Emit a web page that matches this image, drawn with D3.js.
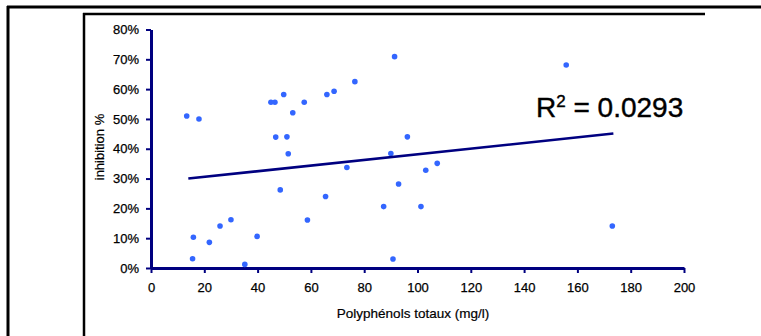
<!DOCTYPE html>
<html>
<head>
<meta charset="utf-8">
<script src="https://cdn.jsdelivr.net/npm/d3@7"></script>
<style>
html,body{margin:0;padding:0;background:#fff;}
svg{display:block;}
text{font-family:"Liberation Sans",Arial,sans-serif;}
</style>
</head>
<body>
<script>
// Data
const polyphenols = [13.4, 18, 45, 46.5, 46.8, 51, 48.5, 15.9, 15.6, 21.9, 25.9, 30, 35.2, 39.8,
  91.4, 76.5, 68.7, 66, 57.5, 49.8, 53.2, 96.2, 51.5, 65.5, 58.7, 73.5, 90, 92.9, 87.3, 101.3,
  103.1, 107.4, 90.8, 155.8, 173.1];
const inhibition = [51, 50, 55.6, 55.6, 43.9, 44, 26.2, 10.3, 3.1, 8.6, 14.1, 16.2, 1.2, 10.6,
  70.9, 62.5, 59.3, 58.2, 55.6, 58.2, 52.1, 44, 38.3, 24, 16.1, 33.7, 38.4, 28.2, 20.6, 20.6,
  32.8, 35.1, 3, 68.1, 14.1];
const trendX = [14, 173.5];
const trendY = [30, 45.1];
const xTicks = [0, 20, 40, 60, 80, 100, 120, 140, 160, 180, 200];
const yTicks = [0, 10, 20, 30, 40, 50, 60, 70, 80];
const xTitle = "Polyphénols totaux (mg/l)";
const yTitle = "inhibition %";
const r2Label = "0.0293";

const W = 761, H = 336;
const svg = d3.select("body").append("svg").attr("width", W).attr("height", H);
svg.append("rect").attr("width", W).attr("height", H).attr("fill", "#fff");

// frames
const frame = svg.append("g").attr("stroke", "#000").attr("fill", "none");
frame.append("line").attr("x1", 7).attr("x2", W).attr("y1", 7).attr("y2", 7).attr("stroke-width", 3);
frame.append("line").attr("x1", 8).attr("x2", 8).attr("y1", 6).attr("y2", H).attr("stroke-width", 3);
frame.append("line").attr("x1", 83).attr("x2", 705).attr("y1", 14).attr("y2", 14).attr("stroke-width", 2.5);
frame.append("line").attr("x1", 84).attr("x2", 84).attr("y1", 13).attr("y2", H).attr("stroke-width", 2.5);

const x = d3.scaleLinear().domain([0, 200]).range([151, 684]);
const y = d3.scaleLinear().domain([0, 80]).range([268, 29.5]);
const navy = "#000080";

// axes
const xAxis = svg.append("g").attr("transform", "translate(0,268)")
  .call(d3.axisBottom(x).tickValues(xTicks).tickSize(5).tickSizeOuter(0).tickPadding(10));
const yAxis = svg.append("g").attr("transform", "translate(151,0)")
  .call(d3.axisLeft(y).tickValues(yTicks).tickSize(5).tickSizeOuter(0).tickPadding(7)
    .tickFormat(d => d + "%"));
[xAxis, yAxis].forEach(g => {
  g.select(".domain").attr("stroke", navy).attr("stroke-width", 3);
  g.selectAll(".tick line").attr("stroke", navy).attr("stroke-width", 2);
  g.selectAll(".tick text").attr("fill", "#000").attr("font-size", 13)
    .attr("stroke", "#000").attr("stroke-width", 0.25)
    .attr("font-family", "'Liberation Sans', Arial, sans-serif");
});

// points
svg.append("g").selectAll("circle").data(polyphenols).join("circle")
  .attr("cx", (d, i) => x(d)).attr("cy", (d, i) => y(inhibition[i]))
  .attr("r", 2.8).attr("fill", "#3366ff");

// trend line
svg.append("line")
  .attr("x1", x(trendX[0])).attr("y1", y(trendY[0]))
  .attr("x2", x(trendX[1])).attr("y2", y(trendY[1]))
  .attr("stroke", navy).attr("stroke-width", 2.6);

// R² label
const r2 = svg.append("text").attr("x", 536).attr("y", 116.5).attr("font-size", 28)
  .attr("fill", "#000").attr("stroke", "#000").attr("stroke-width", 0.4);
r2.append("tspan").text("R");
r2.append("tspan").attr("dy", -10).attr("font-size", 17).text("2");
r2.append("tspan").attr("dy", 10).text(" = " + r2Label);

// titles
svg.append("text").attr("x", 413).attr("y", 318).attr("text-anchor", "middle")
  .attr("font-size", 13.5).attr("fill", "#000").attr("stroke", "#000").attr("stroke-width", 0.2).text(xTitle);
svg.append("text").attr("transform", "translate(104,147) rotate(-90)")
  .attr("text-anchor", "middle").attr("font-size", 13).attr("fill", "#000")
  .attr("stroke", "#000").attr("stroke-width", 0.2).text(yTitle);
</script>
</body>
</html>
